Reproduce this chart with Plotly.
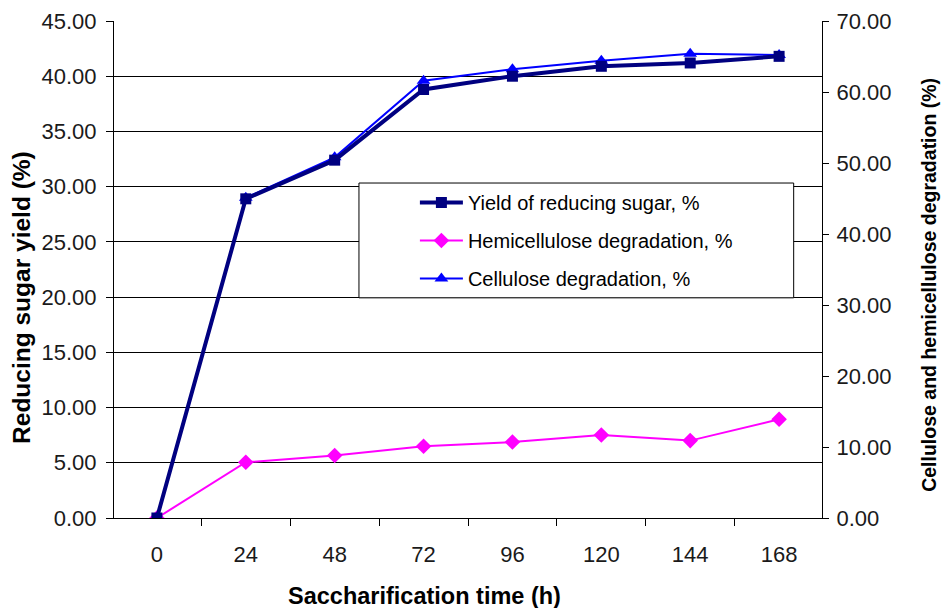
import plotly.graph_objects as go

hours = ["0", "24", "48", "72", "96", "120", "144", "168"]
yield_sugar = [0, 28.9, 32.4, 38.8, 40.0, 40.9, 41.2, 41.8]
hemicellulose = [0, 7.85, 8.8, 10.1, 10.7, 11.7, 10.9, 13.9]
cellulose = [0, 45.1, 50.8, 61.6, 63.2, 64.4, 65.4, 65.2]

names = ["Yield of reducing sugar, %", "Hemicellulose degradation, %", "Cellulose degradation, %"]
x_title = "Saccharification time (h)"
y_left_title = "Reducing sugar yield (%)"
y_right_title = "Cellulose and hemicellulose degradation (%)"

FONT = "Liberation Sans, Arial, sans-serif"
TXT = "#1a1a1a"

fig = go.Figure()

fig.add_trace(go.Scatter(
    x=hours, y=hemicellulose, name=names[1], yaxis="y", mode="lines+markers",
    line=dict(color="#FF00FF", width=2),
    marker=dict(symbol="diamond", size=12, color="#FF00FF"),
    legendgroup="b", legendrank=2,
))
fig.add_trace(go.Scatter(
    x=hours, y=cellulose, name=names[2], yaxis="y", mode="lines+markers",
    line=dict(color="#0000FF", width=2),
    marker=dict(symbol="triangle-up", size=12, color="#0000FF"),
    legendgroup="c", legendrank=3,
))
fig.add_trace(go.Scatter(
    x=hours, y=yield_sugar, name=names[0], yaxis="y2", mode="lines+markers",
    line=dict(color="#000080", width=4),
    marker=dict(symbol="square", size=11, color="#000080"),
    legendgroup="a", legendrank=1,
))

fig.update_layout(
    template="none",
    width=943, height=608,
    margin=dict(l=114, r=121, t=21, b=90, autoexpand=False),
    paper_bgcolor="white", plot_bgcolor="white",
    font=dict(family=FONT, size=22, color=TXT),
    showlegend=True,
    legend=dict(
        x=0.425, xanchor="left", y=0.674, yanchor="top",
        bgcolor="rgba(0,0,0,0)", borderwidth=0,
        font=dict(family=FONT, size=20, color="#000000"),
        traceorder="grouped", tracegroupgap=9, itemwidth=43,
    ),
    xaxis=dict(
        type="category", tickson="boundaries", automargin=False,
        showline=True, linecolor="#000000", linewidth=1,
        ticks="outside", ticklen=7, tickcolor="#000000", tickwidth=1,
        ticklabelstandoff=17,
        showgrid=False, zeroline=False,
        tickfont=dict(size=22, color=TXT),
    ),
    xaxis2=dict(
        overlaying="x", anchor="y", type="linear", range=[-0.5, 7.5], automargin=False,
        tick0=-0.5, dtick=1, ticks="inside", ticklen=6, tickcolor="#000000", tickwidth=1,
        showticklabels=False, showgrid=False, zeroline=False, showline=False,
    ),
    yaxis=dict(
        side="right", range=[0, 70], dtick=10, tickformat=".2f", automargin=False,
        showline=True, linecolor="#000000", linewidth=1,
        ticks="outside", ticklen=6, tickcolor="#000000", tickwidth=1,
        ticklabelstandoff=3,
        showgrid=False, zeroline=False,
        tickfont=dict(size=22, color=TXT),
    ),
    yaxis2=dict(
        overlaying="y", side="left", anchor="x", range=[0, 45], dtick=5, tickformat=".2f", automargin=False,
        showline=True, linecolor="#000000", linewidth=1,
        ticks="outside", ticklen=7, tickcolor="#000000", tickwidth=1,
        ticklabelstandoff=5,
        showgrid=True, gridcolor="#000000", gridwidth=1, zeroline=False,
        tickfont=dict(size=22, color=TXT),
    ),
    yaxis3=dict(
        overlaying="y", side="right", anchor="x", range=[0, 70], dtick=10, automargin=False,
        ticks="inside", ticklen=6, tickcolor="#000000", tickwidth=1,
        showticklabels=False, showgrid=False, zeroline=False, showline=False,
    ),
    shapes=[dict(
        type="rect", xref="paper", yref="paper",
        x0=0.346, x1=0.96, y0=0.443, y1=0.674,
        fillcolor="white", line=dict(color="#000000", width=1), layer="above",
    )],
    annotations=[
        dict(text="<b>%s</b>" % x_title, xref="paper", yref="paper", x=0.438, y=-0.157,
             xanchor="center", yanchor="middle", showarrow=False,
             font=dict(family=FONT, size=23.5, color="#000000")),
        dict(text="<b>%s</b>" % y_left_title, xref="paper", yref="paper", x=-0.1298, y=0.443,
             xanchor="center", yanchor="middle", textangle=-90, showarrow=False,
             font=dict(family=FONT, size=24.5, color="#000000")),
        dict(text="<b>%s</b>" % y_right_title, xref="paper", yref="paper", x=1.151, y=0.469,
             xanchor="center", yanchor="middle", textangle=-90, showarrow=False,
             font=dict(family=FONT, size=19.5, color="#000000")),
    ],
)

fig.write_html("out.html", config={"displayModeBar": False},
               post_script="document.body.style.margin='0';")
